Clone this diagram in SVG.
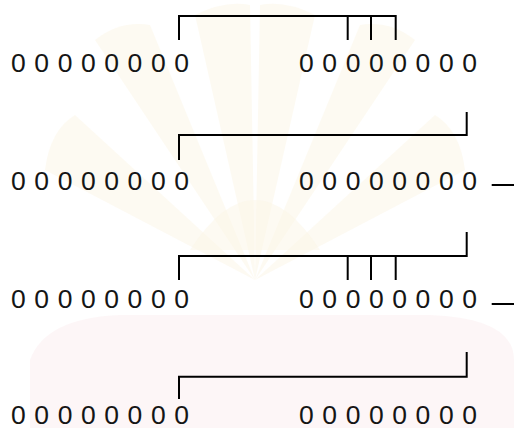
<svg xmlns="http://www.w3.org/2000/svg" width="514" height="428" viewBox="0 0 514 428">
<style>
.t{font-family:"Liberation Sans",Arial,sans-serif;font-size:26.5px;fill:#151515}
.c{fill:none;stroke:#000;stroke-width:2}
.wy{fill:#fbf6e6;opacity:0.5}
.wp{fill:#fcf4f5;opacity:0.8}
</style>
<rect width="514" height="428" fill="#ffffff"/>
<g id="watermark">
<path class="wy" d="M255 280 L95 40 Q120 20 150 25 Z"/>
<path class="wy" d="M255 280 L45 170 Q50 130 75 115 Z"/>
<path class="wy" d="M255 280 L415 40 Q390 20 360 25 Z"/>
<path class="wy" d="M255 280 L465 170 Q460 130 435 115 Z"/>
<path class="wy" d="M255 280 L195 15 Q225 0 250 5 Z"/>
<path class="wy" d="M255 280 L315 15 Q285 0 260 5 Z"/>
<path class="wy" d="M190 250 Q255 150 320 250 Z"/>
<path class="wp" d="M30 428 L30 360 Q45 318 120 315 L430 315 Q514 318 514 360 L514 428 Z"/>
</g>
<g id="row1">
<text class="t" x="11" y="72" textLength="178" lengthAdjust="spacing">0 0 0 0 0 0 0 0</text>
<text class="t" x="299" y="72" textLength="178" lengthAdjust="spacing">0 0 0 0 0 0 0 0</text>
</g>
<g id="row2">
<text class="t" x="11" y="190" textLength="178" lengthAdjust="spacing">0 0 0 0 0 0 0 0</text>
<text class="t" x="299" y="190" textLength="178" lengthAdjust="spacing">0 0 0 0 0 0 0 0</text>
</g>
<g id="row3">
<text class="t" x="11" y="308" textLength="178" lengthAdjust="spacing">0 0 0 0 0 0 0 0</text>
<text class="t" x="299" y="308" textLength="178" lengthAdjust="spacing">0 0 0 0 0 0 0 0</text>
</g>
<g id="row4">
<text class="t" x="11" y="424" textLength="178" lengthAdjust="spacing">0 0 0 0 0 0 0 0</text>
<text class="t" x="299" y="424" textLength="178" lengthAdjust="spacing">0 0 0 0 0 0 0 0</text>
</g>
<g id="connectors">
<path class="c" d="M179 40 V16 H395.7 V40 M347.7 16 V40 M371 16 V40"/>
<path class="c" d="M466.7 112 V135 H179 V160"/>
<path class="c" d="M491.7 185 H514"/>
<path class="c" d="M466.7 232 V256 H179 V280 M347.7 256 V280 M371 256 V280 M395.7 256 V280"/>
<path class="c" d="M491.7 304 H514"/>
<path class="c" d="M466.7 352 V376.7 H179 V399"/>
</g>
</svg>
